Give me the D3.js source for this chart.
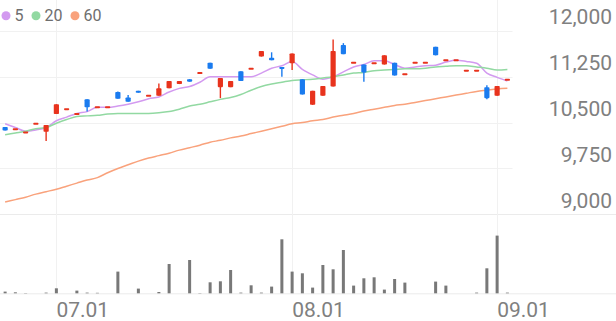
<!DOCTYPE html>
<html>
<head>
<meta charset="utf-8">
<script src="https://cdn.jsdelivr.net/npm/d3@7"></script>
<style>
  html, body { margin: 0; padding: 0; background: #fff; }
  #chart { width: 616px; height: 321px; }
</style>
</head>
<body>
<div id="chart"></div>
<script>
// trading days, jun 24 - sep 2 2020
const dates = ["2020-06-24","2020-06-25","2020-06-26","2020-06-29","2020-06-30",
  "2020-07-01","2020-07-02","2020-07-03","2020-07-06","2020-07-07","2020-07-08","2020-07-09","2020-07-10",
  "2020-07-13","2020-07-14","2020-07-15","2020-07-16","2020-07-17","2020-07-20","2020-07-21","2020-07-22",
  "2020-07-23","2020-07-24","2020-07-27","2020-07-28","2020-07-29","2020-07-30","2020-07-31",
  "2020-08-03","2020-08-04","2020-08-05","2020-08-06","2020-08-07","2020-08-10","2020-08-11","2020-08-12",
  "2020-08-13","2020-08-14","2020-08-18","2020-08-19","2020-08-20","2020-08-21","2020-08-24","2020-08-25",
  "2020-08-26","2020-08-27","2020-08-28","2020-08-31","2020-09-01","2020-09-02"];
const open = [10430,10390,10340,10480,10350,10640,10720,10640,10880,10750,10750,11000,10910,11020,10940,10940,11060,11130,11210,11310,
  11480,11080,11080,11340,11380,11580,11560,11410,11470,11210,10790,10940,11090,11770,11480,11450,11470,11450,11480,11290,
  11480,11480,11740,11520,11520,11350,11350,11080,10940,11200];
const high = [10430,10390,10340,10480,10460,10800,10720,10640,10880,10750,10750,11010,10950,11020,10940,11140,11180,11180,11210,11310,
  11480,11230,11180,11340,11380,11670,11650,11410,11630,11210,11020,11100,11860,11800,11480,11450,11470,11600,11480,11290,
  11480,11480,11740,11520,11520,11350,11350,11110,11100,11200];
const low = [10370,10390,10340,10480,10200,10640,10720,10640,10680,10750,10750,10890,10840,10990,10940,10940,11060,11130,11170,11310,
  11380,10900,11080,11180,11380,11580,11520,11250,11360,10960,10790,10940,11090,11620,11480,11170,11470,11450,11270,11290,
  11480,11480,11600,11520,11520,11350,11350,10880,10940,11200];
const close = [10370,10390,10340,10480,10460,10800,10720,10640,10750,10750,10750,10890,10840,10990,10940,11060,11180,11180,11170,11310,
  11380,11230,11180,11180,11380,11670,11520,11380,11630,10960,11020,11100,11670,11620,11480,11320,11470,11600,11270,11290,
  11480,11480,11600,11520,11520,11350,11350,10900,11100,11200];
const volume = [1700,1000,300,0,700,5000,0,2700,700,500,0,21700,0,4700,0,1300,29300,0,33300,300,
  11000,12000,23300,700,8000,700,6700,54000,21700,20000,5700,28300,24000,43300,7700,15000,16000,3700,14300,10700,
  0,0,11700,7700,0,0,700,25000,57700,700];
const ma5 = [10480,10420,10360,10380,10420,10530,10590,10650,10680,10750,10750,10770,10800,10840,10890,10920,11000,11060,11090,11160,
  11250,11250,11250,11250,11250,11310,11390,11430,11500,11370,11280,11210,11250,11330,11410,11450,11510,11510,11450,11390,
  11410,11430,11440,11490,11520,11500,11470,11310,11240,11180];
const ma20 = [10300,10330,10360,10400,10420,10490,10550,10600,10610,10620,10640,10650,10650,10650,10650,10660,10680,10720,10770,10800,
  10840,10880,10910,10960,11030,11090,11130,11160,11190,11200,11210,11230,11250,11280,11310,11320,11350,11360,11370,11380,
  11380,11390,11410,11420,11430,11430,11410,11390,11360,11370];
const ma60 = [9200,9240,9280,9330,9370,9410,9460,9510,9560,9600,9680,9750,9810,9870,9920,9960,10000,10050,10090,10130,
  10180,10210,10250,10280,10320,10360,10400,10440,10480,10500,10530,10550,10590,10620,10650,10690,10720,10750,10780,10800,
  10830,10860,10890,10920,10950,10980,11010,11030,11050,11060];
const priceTicks = [9000, 9750, 10500, 11250, 12000];
const dateTicks = ["2020-07-01", "2020-08-03", "2020-09-01"];
const dateTickLabels = ["07.01", "08.01", "09.01"];
const maNames = ["5", "20", "60"];

const upColor = "#e8331d";
const downColor = "#1a7bef";
const maColors = ["#d39af0", "#92d9a2", "#f9a27c"];
const labelColor = "#808080";
const gridColor = "#f1f1f1";

var dimensions = {
    width: 616,
    height: 321,
    plotRight: 512.5,
    priceTop: 30.9,
    priceBottom: 214.3,
    volBottom: 293.3
}

const svg = d3.select('#chart').append('svg')
    .attr('width', dimensions.width)
    .attr('height', dimensions.height)
    .style("font-family", "Roboto, sans-serif");

const x = d3.scaleBand()
    .domain(dates)
    .range([0, dimensions.plotRight]);
const cx = d => x(d) + x.bandwidth() / 2;

const y = d3.scaleLinear()
    .domain([9000, 12000])
    .range([dimensions.priceBottom, dimensions.priceTop]);

const yVol = d3.scaleLinear()
    .domain([0, 60000])
    .range([dimensions.volBottom, dimensions.volBottom - 60]);

// grid
svg.append('g').selectAll('line')
    .data(priceTicks)
    .enter().append('line')
    .attr('x1', 0)
    .attr('x2', d => d === priceTicks[0] ? dimensions.width : dimensions.plotRight)
    .attr('y1', d => Math.round(y(d)) + 0.5)
    .attr('y2', d => Math.round(y(d)) + 0.5)
    .attr('stroke', d => d === priceTicks[0] ? "#ebebeb" : gridColor)
    .attr('stroke-width', 1);

svg.append('g').selectAll('line')
    .data(dateTicks)
    .enter().append('line')
    .attr('x1', d => Math.round(cx(d)) + 0.5)
    .attr('x2', d => Math.round(cx(d)) + 0.5)
    .attr('y1', 0)
    .attr('y2', dimensions.volBottom)
    .attr('stroke', gridColor)
    .attr('stroke-width', 1);

// volume baseline
svg.append('line')
    .attr('x1', 0).attr('x2', dimensions.width)
    .attr('y1', dimensions.volBottom + 0.5).attr('y2', dimensions.volBottom + 0.5)
    .attr('stroke', "#ececec");

// y labels
svg.append('g').selectAll('text')
    .data(priceTicks)
    .enter().append('text')
    .attr('x', 612)
    .attr('y', d => y(d) - 6.5)
    .attr('text-anchor', 'end')
    .attr('font-size', 21)
    .attr('fill', labelColor)
    .text(d => d3.format(",")(d));

// x labels
svg.append('g').selectAll('text')
    .data(dateTicks)
    .enter().append('text')
    .attr('x', d => cx(d))
    .attr('y', 317)
    .attr('font-size', 21)
    .attr('fill', labelColor)
    .text((d, i) => dateTickLabels[i]);

// moving averages
const line = d3.line()
    .x((d, i) => cx(dates[i]))
    .y(d => y(d))
    .curve(d3.curveMonotoneX);

[ma5, ma20, ma60].forEach(function (series, k) {
    svg.append('path')
        .datum(series)
        .attr('d', line)
        .attr('fill', 'none')
        .attr('stroke', maColors[k])
        .attr('stroke-width', 1.5);
});

// volume bars
svg.append('g').selectAll('rect')
    .data(volume)
    .enter().append('rect')
    .attr('x', (d, i) => cx(dates[i]) - 1.5)
    .attr('width', 3)
    .attr('y', d => yVol(d))
    .attr('height', d => dimensions.volBottom - yVol(d))
    .attr('fill', "#787878");

// candles
var candles = dates.map(function (d, i) {
    return {date: d, o: open[i], h: high[i], l: low[i], c: close[i]};
});
const candleG = svg.append('g').selectAll('g')
    .data(candles)
    .enter().append('g');

candleG.append('line')
    .attr('x1', d => cx(d.date))
    .attr('x2', d => cx(d.date))
    .attr('y1', d => y(d.h))
    .attr('y2', d => y(d.l))
    .attr('stroke', d => d.c >= d.o ? upColor : downColor)
    .attr('stroke-width', 1.4);

candleG.append('rect')
    .attr('x', d => cx(d.date) - 2.6)
    .attr('width', 5.2)
    .attr('y', function (d) {
        var top = y(Math.max(d.o, d.c)), bot = y(Math.min(d.o, d.c));
        return bot - top < 2 ? (top + bot) / 2 - 1 : top;
    })
    .attr('height', d => Math.max(2, y(Math.min(d.o, d.c)) - y(Math.max(d.o, d.c))))
    .attr('rx', 0.8)
    .attr('fill', d => d.c >= d.o ? upColor : downColor);

// Legend section
var legend = svg.append('g');
var lx = 1.5;
maNames.forEach(function (name, k) {
    legend.append('circle')
        .attr('cx', lx + 4.5)
        .attr('cy', 15.7)
        .attr('r', 4.5)
        .attr('fill', maColors[k]);
    var t = legend.append('text')
        .attr('x', lx + 13)
        .attr('y', 21)
        .attr('font-size', 16)
        .attr('fill', "#6e6e6e")
        .text(name);
    lx = lx + 13 + t.node().getComputedTextLength() + 8;
});
</script>
</body>
</html>
